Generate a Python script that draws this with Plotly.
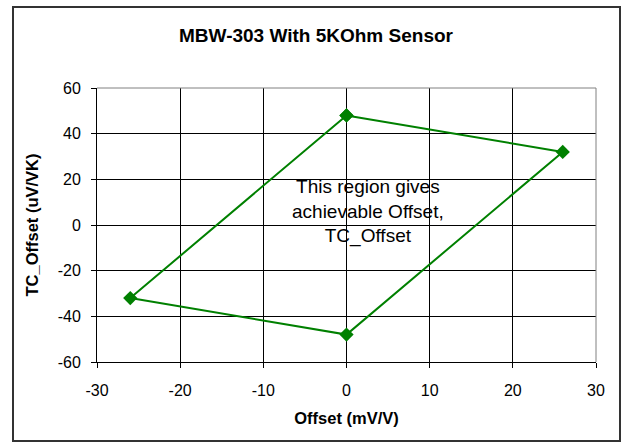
import plotly.graph_objects as go

# Data (closed polygon of achievable region)
offset_mv_v = [0, 26, 0, -26, 0]
tc_offset_uv_vk = [48, 32, -48, -32, 48]

x_ticks = [-30, -20, -10, 0, 10, 20, 30]
y_ticks = [-60, -40, -20, 0, 20, 40, 60]

title_text = "MBW-303 With 5KOhm Sensor"
x_title = "Offset (mV/V)"
y_title = "TC_Offset (uV/VK)"
note_text = "This region gives<br>achievable Offset,<br>TC_Offset"
note_x, note_y = 2.6, 6

W, H = 622, 444
L, R, T, B = 97, 26, 88, 82
pw, ph = W - L - R, H - T - B
FONT = "Liberation Sans, Arial, sans-serif"

def px_to_paper_x(px):
    return (px - L) / pw

def py_to_paper_y(py):
    return (H - B - py) / ph

fig = go.Figure()
fig.add_trace(go.Scatter(
    x=offset_mv_v, y=tc_offset_uv_vk, mode="lines+markers",
    line=dict(color="#008000", width=2),
    marker=dict(symbol="diamond", size=11, color="#008000"),
    showlegend=False, hoverinfo="x+y",
))

axis_common = dict(
    showgrid=True, gridcolor="#000000", gridwidth=1,
    zeroline=True, zerolinecolor="#000000", zerolinewidth=1,
    showline=True, linecolor="#000000", linewidth=1,
    ticks="outside", ticklen=5, tickcolor="#000000",
    tickfont=dict(family=FONT, size=16, color="#000000"),
)

fig.update_layout(
    width=W, height=H,
    margin=dict(l=L, r=R, t=T, b=B),
    paper_bgcolor="white", plot_bgcolor="white",
    title=dict(text="<b>" + title_text + "</b>", x=px_to_paper_x(316), xref="paper",
               xanchor="center", y=1 - 35 / H, yanchor="middle",
               font=dict(family=FONT, size=19, color="#000000")),
    xaxis=dict(range=[-30, 30], tickvals=x_ticks,
               ticktext=[str(v) for v in x_ticks],
               ticklabelstandoff=9,
               title=dict(text="<b>" + x_title + "</b>", standoff=14,
                          font=dict(family=FONT, size=16.5, color="#000000")),
               **axis_common),
    yaxis=dict(range=[-60, 60], tickvals=y_ticks,
               ticktext=[str(v) for v in y_ticks],
               ticklabelstandoff=7,
               title=dict(text="<b>" + y_title + "</b>", standoff=14,
                          font=dict(family=FONT, size=16.5, color="#000000")),
               **axis_common),
    annotations=[dict(x=note_x, y=note_y, xref="x", yref="y", text=note_text,
                      showarrow=False, align="center",
                      font=dict(family=FONT, size=19, color="#000000"))],
    shapes=[
        dict(type="rect", xref="paper", yref="paper",
             x0=px_to_paper_x(13), x1=px_to_paper_x(620),
             y0=py_to_paper_y(441), y1=py_to_paper_y(7),
             line=dict(color="#333333", width=2), layer="below"),
        dict(type="line", xref="paper", yref="paper", x0=0, x1=1, y0=1, y1=1,
             line=dict(color="#808080", width=1)),
        dict(type="line", xref="paper", yref="paper", x0=1, x1=1, y0=0, y1=1,
             line=dict(color="#808080", width=1)),
    ],
)

fig.write_html(
    "out.html",
    config={"displayModeBar": False},
    post_script="document.body.style.margin='0';document.body.style.overflow='hidden';",
)
